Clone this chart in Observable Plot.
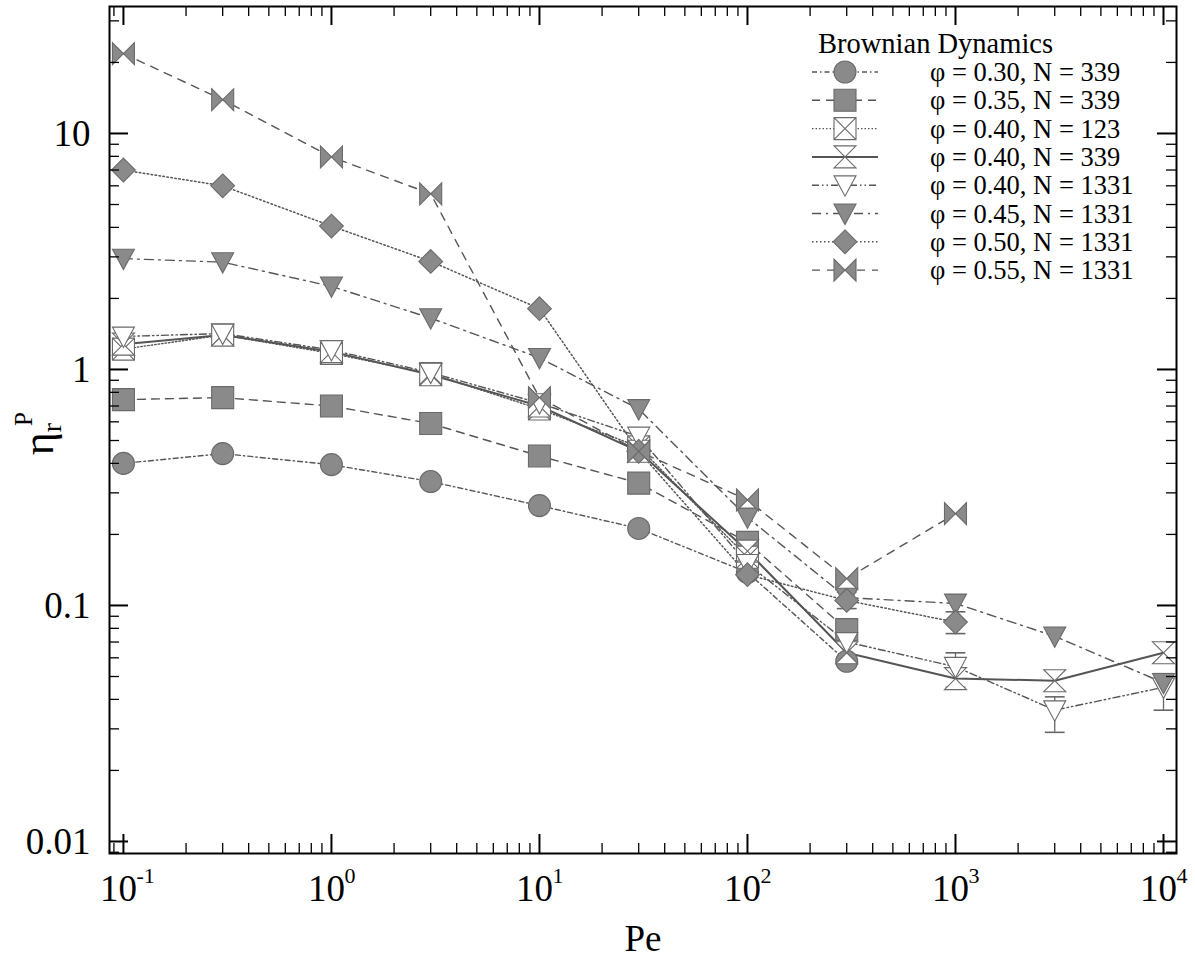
<!DOCTYPE html>
<html><head><meta charset="utf-8">
<script src="https://cdn.jsdelivr.net/npm/d3@7"></script>
<script src="https://cdn.jsdelivr.net/npm/@observablehq/plot@0.6"></script>
<style>
body{margin:0;background:#fff;}
#chart{position:relative;width:1195px;height:958px;}
svg{font-family:"Liberation Serif","Times New Roman",serif;}
</style>
</head><body><div id="chart"></div>
<script>
// ---- data ----
const pe = [0.1, 0.3, 1, 3, 10, 30, 100, 300, 1000, 3000, 10000];
const phi030_N339  = [0.40, 0.44, 0.395, 0.335, 0.265, 0.212, 0.138, 0.058];
const phi035_N339  = [0.745, 0.76, 0.70, 0.59, 0.43, 0.33, 0.185, 0.079];
const phi040_N123  = [1.22, 1.40, 1.17, 0.96, 0.68, 0.47, 0.16];
const phi040_N339  = [1.28, 1.40, 1.19, 0.95, 0.70, 0.45, 0.17, 0.063, 0.049, 0.048, 0.063];
const phi040_N1331 = [1.38, 1.42, 1.21, 0.97, 0.72, 0.52, 0.15, 0.07, 0.055, 0.036, 0.045];
const phi045_N1331 = [2.95, 2.85, 2.25, 1.65, 1.12, 0.68, 0.236, 0.108, 0.102, 0.074, 0.047];
const phi050_N1331 = [7.0, 6.0, 4.05, 2.87, 1.81, 0.45, 0.135, 0.105, 0.085];
const phi055_N1331 = [21.8, 13.9, 7.95, 5.55, 0.76, 0.45, 0.28, 0.13, 0.245];
const legendLabels = ["φ = 0.30, N = 339","φ = 0.35, N = 339","φ = 0.40, N = 123","φ = 0.40, N = 339",
  "φ = 0.40, N = 1331","φ = 0.45, N = 1331","φ = 0.50, N = 1331","φ = 0.55, N = 1331"];
const legendTitle = "Brownian Dynamics";
// error bars
const errPe = [300, 1000, 1000, 3000, 10000];
const errLo = [0.097, 0.076, 0.045, 0.029, 0.036];
const errHi = [0.114, 0.094, 0.063, 0.041, 0.0514];
// ticks
const xMajor = [0.1, 1, 10, 100, 1000, 10000];
const xExp = ["-1", "0", "1", "2", "3", "4"];
const xMinor = [0.09, 2e-1,3e-1,4e-1,5e-1,6e-1,7e-1,8e-1,9e-1, 2,3,4,5,6,7,8,9, 20,30,40,50,60,70,80,90,
  200,300,400,500,600,700,800,900, 2000,3000,4000,5000,6000,7000,8000,9000];
const yMajor = [0.01, 0.1, 1, 10];
const yLabels = ["0.01", "0.1", "1", "10"];
const yMinor = [0.009, 0.02,0.03,0.04,0.05,0.06,0.07,0.08,0.09, 0.2,0.3,0.4,0.5,0.6,0.7,0.8,0.9,
  2,3,4,5,6,7,8,9, 20,30];

// ---- symbols ----
const sym = f => ({draw(c, size){ const r = Math.sqrt(size/Math.PI); f(c, r); }});
const circleS = sym((c,r)=>{ c.moveTo(r,0); c.arc(0,0,r,0,2*Math.PI); c.closePath(); });
const squareS = sym((c,r)=>{ c.moveTo(-r,-r); c.lineTo(r,-r); c.lineTo(r,r); c.lineTo(-r,r); c.closePath(); });
const xsquareS = sym((c,r)=>{ c.moveTo(-r,-r); c.lineTo(r,-r); c.lineTo(r,r); c.lineTo(-r,r); c.closePath();
  c.moveTo(-r,-r); c.lineTo(r,r); c.moveTo(r,-r); c.lineTo(-r,r); });
const hourS = sym((c,r)=>{ c.moveTo(-r,-r); c.lineTo(r,-r); c.lineTo(-r,r); c.lineTo(r,r); c.closePath(); });
const triDS = sym((c,r)=>{ c.moveTo(-r,-0.85*r); c.lineTo(r,-0.85*r); c.lineTo(0,r); c.closePath(); });
const diamS = sym((c,r)=>{ const h=1.08*r; c.moveTo(0,-h); c.lineTo(h,0); c.lineTo(0,h); c.lineTo(-h,0); c.closePath(); });
const bowS = sym((c,r)=>{ c.moveTo(-r,-r); c.lineTo(r,r); c.lineTo(r,-r); c.lineTo(-r,r); c.closePath(); });
const capS = sym((c,r)=>{ c.moveTo(-0.9*r,0); c.lineTo(0.9*r,0); });

const FILL = "#8a8a8a", EDGE = "#6a6a6a", LINE = "#555";
const series = [
  {vals: phi030_N339,  symbol: circleS, fill: FILL,    dash: "5,3,1.5,3",        w: 1.4},
  {vals: phi035_N339,  symbol: squareS, fill: FILL,    dash: "8,6",              w: 1.4},
  {vals: phi040_N123,  symbol: xsquareS,fill: "white", dash: "1.5,2",            w: 1.4},
  {vals: phi040_N339,  symbol: hourS,   fill: "white", dash: null,               w: 2.0},
  {vals: phi040_N1331, symbol: triDS,   fill: "white", dash: "7,3,1.5,3,1.5,3",  w: 1.4},
  {vals: phi045_N1331, symbol: triDS,   fill: FILL,    dash: "9,5,2,5",          w: 1.4},
  {vals: phi050_N1331, symbol: diamS,   fill: FILL,    dash: "1.5,2.5",          w: 1.5},
  {vals: phi055_N1331, symbol: bowS,    fill: FILL,    dash: "8,7",              w: 1.4},
];
series.forEach(s => { s.rows = s.vals.map((v,j) => ({x: pe[j], y: v})).filter(d => d.y != null); });
const errRows = errPe.map((x,i) => ({x, lo: errLo[i], hi: errHi[i]}));

// ---- layout ----
const W = 1195, H = 958, mL = 109, mR = 19, mT = 6, mB = 105;
const fw = W - mL - mR, fh = H - mT - mB;
const R = 11;

const marks = [];
series.forEach(s => {
  marks.push(Plot.line(s.rows, {x: "x", y: "y", stroke: LINE, strokeWidth: s.w, strokeDasharray: s.dash}));
});
marks.push(Plot.ruleX(errRows, {x: "x", y1: "lo", y2: "hi", stroke: "#666", strokeWidth: 1.3}));
marks.push(Plot.dot(errRows, {x: "x", y: "lo", symbol: capS, r: R, fill: "none", stroke: "#666", strokeWidth: 1.6}));
marks.push(Plot.dot(errRows, {x: "x", y: "hi", symbol: capS, r: R, fill: "none", stroke: "#666", strokeWidth: 1.6}));
series.forEach(s => {
  marks.push(Plot.dot(s.rows, {x: "x", y: "y", symbol: s.symbol, r: R, fill: s.fill, stroke: EDGE, strokeWidth: 1.1}));
});
// ticks (inward, all four sides)
const tk = (vals, len, sw) => [
  Plot.tickX(vals, {x: d=>d, insetTop: fh - len, stroke: "black", strokeWidth: sw}),
  Plot.tickX(vals, {x: d=>d, insetBottom: fh - len, stroke: "black", strokeWidth: sw}),
];
const tkY = (vals, len, sw) => [
  Plot.tickY(vals, {y: d=>d, insetRight: fw - len, stroke: "black", strokeWidth: sw}),
  Plot.tickY(vals, {y: d=>d, insetLeft: fw - len, stroke: "black", strokeWidth: sw}),
];
marks.push(...tk(xMinor, 10, 1.3), ...tk(xMajor, 19, 2), ...tkY(yMinor, 10, 1.3), ...tkY(yMajor, 19, 2));
marks.push(Plot.frame({stroke: "black", strokeWidth: 2}));
// tick labels
marks.push(Plot.text(yMajor, {y: d=>d, text: (d,i)=>yLabels[i], frameAnchor: "left", textAnchor: "end", dx: -19, dy: 1,
  fontSize: 37, fontFamily: "Liberation Serif", fill: "black"}));
marks.push(Plot.text(xMajor, {x: d=>d, text: d=>"10", frameAnchor: "bottom", lineAnchor: "bottom", dx: -5, dy: 47,
  fontSize: 37, fontFamily: "Liberation Serif", fill: "black"}));
marks.push(Plot.text(xMajor, {x: d=>d, text: (d,i)=>xExp[i], frameAnchor: "bottom", lineAnchor: "bottom", textAnchor: "start",
  dx: 13, dy: 29, fontSize: 22, fontFamily: "Liberation Serif", fill: "black"}));
marks.push(Plot.text(["Pe"], {text: d=>d, frameAnchor: "bottom", lineAnchor: "bottom", dy: 97,
  fontSize: 37, fontFamily: "Liberation Serif", fill: "black"}));

const plot = Plot.plot({
  width: W, height: H, marginLeft: mL, marginRight: mR, marginTop: mT, marginBottom: mB,
  x: {type: "log", domain: [Math.pow(10,-1.067), Math.pow(10,4.0625)], axis: null},
  y: {type: "log", domain: [Math.pow(10,-2.051), Math.pow(10,1.538)], axis: null},
  style: {fontFamily: "Liberation Serif", background: "white", overflow: "visible"},
  marks
});
document.getElementById("chart").appendChild(plot);

// ---- y-axis title η_r^P ----
const svg = d3.select(plot);
const yt = svg.append("text")
  .attr("transform", `translate(53, ${mT + fh*0.505}) rotate(-90)`)
  .attr("text-anchor", "middle")
  .attr("font-family", "Liberation Serif").attr("font-size", 44).attr("fill", "black");
yt.append("tspan").text("η");
yt.append("tspan").attr("font-size", 28).attr("dy", 8).text("r");
yt.append("tspan").attr("font-size", 25).attr("dx", -3).attr("dy", -29).text("P");

// ---- legend ----
const lg = svg.append("g").attr("font-family", "Liberation Serif").attr("fill", "black").attr("text-anchor", "start");
lg.append("text").attr("x", 818).attr("y", 53).attr("font-size", 28.5).attr("text-anchor", "start").text(legendTitle);
series.forEach((s, i) => {
  const cy = 72 + i * 28.3;
  lg.append("line").attr("x1", 812).attr("x2", 878).attr("y1", cy).attr("y2", cy)
    .attr("stroke", LINE).attr("stroke-width", s.w).attr("stroke-dasharray", s.dash);
  lg.append("path").attr("transform", `translate(845,${cy})`)
    .attr("d", d3.symbol(s.symbol, Math.PI * R * R)())
    .attr("fill", s.fill).attr("stroke", EDGE).attr("stroke-width", 1.1);
  lg.append("text").attr("x", 930).attr("y", cy + 9).attr("font-size", 26.5).attr("text-anchor", "start").text(legendLabels[i]);
});
</script>
</body></html>
